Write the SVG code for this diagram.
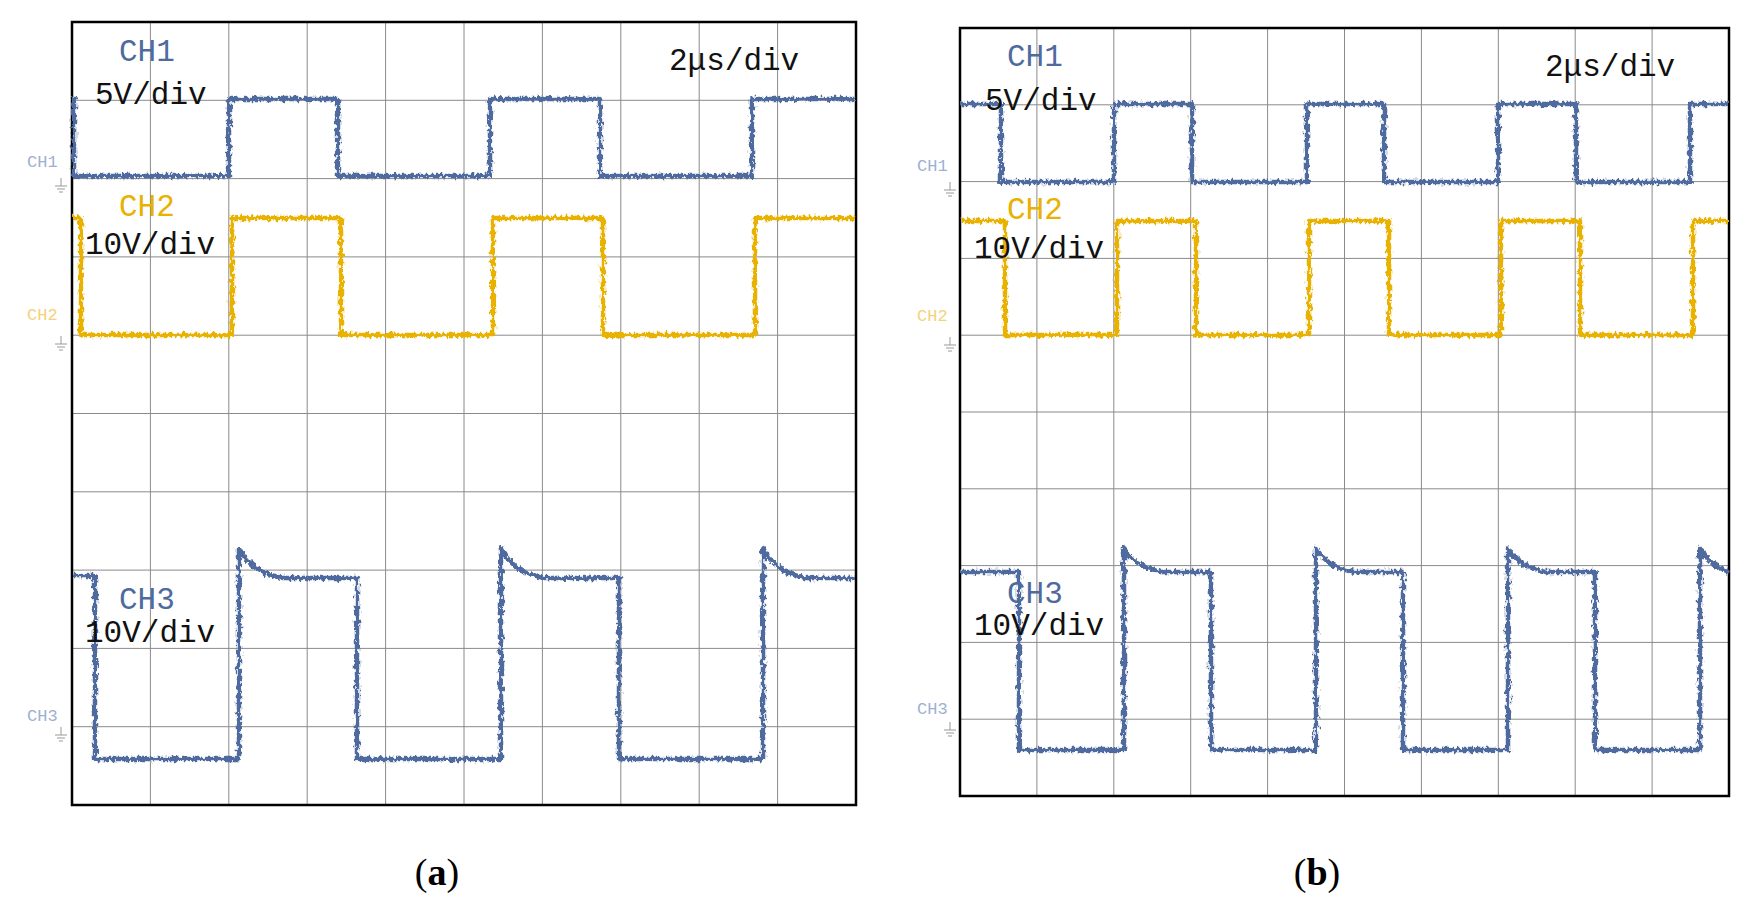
<svg xmlns="http://www.w3.org/2000/svg" width="1749" height="902" viewBox="0 0 1749 902">
<style>
.grid{stroke:#8a8a8a;stroke-width:1;fill:none}
.frame{stroke:#000;stroke-width:2.5;fill:none}
.tr{fill:none;stroke-width:4.5;stroke-linejoin:round}
.b{stroke:#4f6b9e}
.y{stroke:#e9b100}
.lbl{font-family:"Liberation Mono",monospace;font-size:31px}
.cb{fill:#4f6b9e}.cy{fill:#e9b100}.ck{fill:#111}
.sm{font-family:"Liberation Mono",monospace;font-size:17px}
.sb{fill:#9eb0d2}.sy{fill:#f4d27c}
.cap{font-family:"Liberation Serif",serif;font-size:38px;fill:#000;text-anchor:middle}
.gnd{stroke:#999;stroke-width:1;fill:none}
</style>
<defs>
<filter id="noise" filterUnits="userSpaceOnUse" x="0" y="0" width="1749" height="902">
<feTurbulence type="fractalNoise" baseFrequency="0.35 0.2" numOctaves="2" seed="3" result="t"/>
<feDisplacementMap in="SourceGraphic" in2="t" scale="7" xChannelSelector="A" yChannelSelector="R"/>
</filter>
<path id="g" d="M0,-6 V2 M-6,2 H6 M-4,5 H4 M-2,8 H2"/>
</defs>
<rect width="1749" height="902" fill="#fff"/>
<g id="panel-a">
<g class="grid">
<path d="M150.4,22V805M228.8,22V805M307.2,22V805M385.6,22V805M464,22V805M542.4,22V805M620.8,22V805M699.2,22V805M777.6,22V805"/>
<path d="M72,100.3H856M72,178.6H856M72,256.9H856M72,335.2H856M72,413.5H856M72,491.8H856M72,570.1H856M72,648.4H856M72,726.7H856"/>
</g>
<rect class="frame" x="72" y="22" width="784" height="783"/>
<g filter="url(#noise)">
<path class="tr b" d="M73,99 H74 V176 H229 V99 H338 V176 H490 V99 H600 V176 H752 V99 H855"/>
<path class="tr y" d="M73,218 H81 V335 H232 V218 H341 V335 H493 V218 H603 V335 H755 V218 H855"/>
<path class="tr b" d="M73,576 H95 V759 H239 V548 Q250,572 282,578 H357 V759 H501 V548 Q512,572 544,578 H619 V759 H763 V548 Q774,572 806,578 H855"/>
</g>
<text class="lbl cb" x="119" y="61">CH1</text>
<text class="lbl ck" x="95" y="104">5V/div</text>
<text class="lbl ck" x="669" y="70">2μs/div</text>
<text class="lbl cy" x="119" y="216">CH2</text>
<text class="lbl ck" x="85" y="254">10V/div</text>
<text class="lbl cb" x="119" y="609">CH3</text>
<text class="lbl ck" x="85" y="642">10V/div</text>
<text class="sm sb" x="27" y="167">CH1</text>
<text class="sm sy" x="27" y="320">CH2</text>
<text class="sm sb" x="27" y="721">CH3</text>
<use href="#g" class="gnd" x="61" y="184"/>
<use href="#g" class="gnd" x="61" y="342"/>
<use href="#g" class="gnd" x="61" y="733"/>
<text class="cap" x="437" y="885">(<tspan font-weight="bold">a</tspan>)</text>
</g>
<g id="panel-b">
<g class="grid">
<path d="M1036.9,28V796M1113.8,28V796M1190.7,28V796M1267.6,28V796M1344.5,28V796M1421.4,28V796M1498.3,28V796M1575.2,28V796M1652.1,28V796"/>
<path d="M960,104.8H1729M960,181.6H1729M960,258.4H1729M960,335.2H1729M960,412H1729M960,488.8H1729M960,565.6H1729M960,642.4H1729M960,719.2H1729"/>
</g>
<rect class="frame" x="960" y="28" width="769" height="768"/>
<g filter="url(#noise)">
<path class="tr b" d="M961,104 H1001 V182 H1114 V104 H1192 V182 H1307 V104 H1384 V182 H1498 V104 H1576 V182 H1690 V104 H1728"/>
<path class="tr y" d="M961,221 H1005 V335 H1117 V221 H1196 V335 H1309 V221 H1389 V335 H1501 V221 H1580 V335 H1693 V221 H1728"/>
<path class="tr b" d="M961,572 H1019 V750 H1124 V548 Q1133,566 1162,572 H1211 V750 H1316 V548 Q1325,566 1354,572 H1403 V750 H1508 V548 Q1517,566 1546,572 H1595 V750 H1700 V548 Q1710,566 1728,572"/>
</g>
<text class="lbl cb" x="1007" y="66">CH1</text>
<text class="lbl ck" x="985" y="110">5V/div</text>
<text class="lbl ck" x="1545" y="76">2μs/div</text>
<text class="lbl cy" x="1007" y="219">CH2</text>
<text class="lbl ck" x="974" y="258">10V/div</text>
<text class="lbl cb" x="1007" y="603">CH3</text>
<text class="lbl ck" x="974" y="635">10V/div</text>
<text class="sm sb" x="917" y="171">CH1</text>
<text class="sm sy" x="917" y="321">CH2</text>
<text class="sm sb" x="917" y="714">CH3</text>
<use href="#g" class="gnd" x="950" y="188"/>
<use href="#g" class="gnd" x="950" y="343"/>
<use href="#g" class="gnd" x="950" y="728"/>
<text class="cap" x="1317" y="885">(<tspan font-weight="bold">b</tspan>)</text>
</g>
</svg>
